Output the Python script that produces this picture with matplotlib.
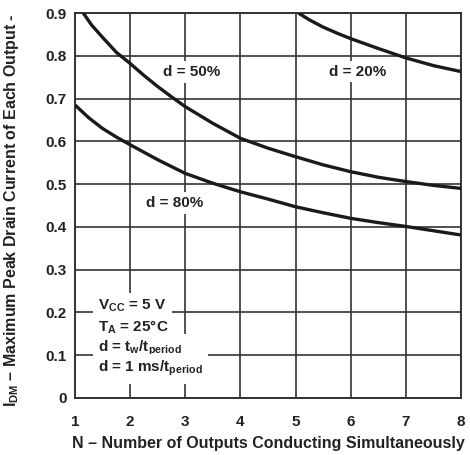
import matplotlib
matplotlib.use('Agg')
import matplotlib.pyplot as plt

plt.rcParams['font.family'] = ['Liberation Sans', 'DejaVu Sans']
plt.rcParams['font.weight'] = 'bold'
plt.rcParams['axes.labelweight'] = 'bold'
plt.rcParams['mathtext.fontset'] = 'custom'
plt.rcParams['mathtext.rm'] = 'Liberation Sans:bold'
plt.rcParams['mathtext.it'] = 'Liberation Sans:bold'
plt.rcParams['mathtext.bf'] = 'Liberation Sans:bold'

# curves
n_50 = [1.15, 1.3, 1.5, 1.75, 2, 2.25, 2.5, 2.75, 3, 3.5, 4, 4.5, 5, 5.5, 6,
        6.5, 7, 7.5, 8]
i_50 = [0.90, 0.872, 0.843, 0.808, 0.782, 0.754, 0.728, 0.704, 0.681, 0.642,
        0.607, 0.584, 0.564, 0.545, 0.529, 0.516, 0.506, 0.497, 0.490]

n_80 = [1, 1.25, 1.5, 1.75, 2, 2.5, 3, 3.5, 4, 4.5, 5, 5.5, 6, 6.5, 7, 7.5, 8]
i_80 = [0.685, 0.655, 0.630, 0.610, 0.592, 0.557, 0.525, 0.502, 0.482, 0.465,
        0.447, 0.433, 0.420, 0.410, 0.401, 0.391, 0.381]

n_20 = [5.05, 5.25, 5.5, 5.75, 6, 6.5, 7, 7.5, 8]
i_20 = [0.90, 0.884, 0.867, 0.853, 0.840, 0.817, 0.795, 0.777, 0.763]

x_ticks = [1, 2, 3, 4, 5, 6, 7, 8]
y_ticks = [0, 0.1, 0.2, 0.3, 0.4, 0.5, 0.6, 0.7, 0.8, 0.9]
y_tick_labels = ['0', '0.1', '0.2', '0.3', '0.4', '0.5', '0.6', '0.7', '0.8', '0.9']

conditions = [r'V$_{\rm CC}$ = 5 V',
              r'T$_{\rm A}$ = 25°C',
              r'd = t$_{\rm w}$/t$_{\rm period}$',
              r'd = 1 ms/t$_{\rm period}$']

ink = '#222222'

fig = plt.figure(figsize=(4.7, 4.55), dpi=100)
ax = fig.add_axes([0.1596, 0.1253, 0.8214, 0.8461])

ax.set_xlim(1, 8)
ax.set_ylim(0, 0.9)
ax.set_xticks(x_ticks)
ax.set_yticks(y_ticks)
ax.set_yticklabels(y_tick_labels)
ax.tick_params(length=0, labelsize=11, colors=ink)
ax.tick_params(axis='x', pad=12)
ax.tick_params(axis='y', pad=6)
ax.grid(True, color='#333333', linewidth=1.2)
ax.set_axisbelow(True)
for s in ax.spines.values():
    s.set_color('#333333')
    s.set_linewidth(1.4)

for n, i in [(n_50, i_50), (n_80, i_80), (n_20, i_20)]:
    ax.plot(n, i, color='#1a1a1a', linewidth=2.4, solid_capstyle='butt',
            solid_joinstyle='round', zorder=3)

box = dict(boxstyle='square,pad=0.25', fc='white', ec='none')
ax.text(3.12, 0.762, 'd = 50%', ha='center', va='center', fontsize=11,
        color=ink, bbox=box, zorder=4)
ax.text(6.12, 0.763, 'd = 20%', ha='center', va='center', fontsize=11,
        color=ink, bbox=box, zorder=4)
ax.text(2.81, 0.456, 'd = 80%', ha='center', va='center', fontsize=11,
        color=ink, bbox=box, zorder=4)

for line, yb in zip(conditions, [0.206, 0.155, 0.108, 0.061]):
    ax.text(1.42, yb, line, ha='left', va='baseline', fontsize=11,
            color=ink, bbox=dict(boxstyle='square,pad=0.35', fc='white', ec='none'),
            zorder=4)

ax.set_xlabel('N – Number of Outputs Conducting Simultaneously', fontsize=11.5,
              fontweight='bold', color=ink, labelpad=5)
ax.set_ylabel(r'I$_{\rm DM}$ – Maximum Peak Drain Current of Each Output -',
              fontsize=11.5, fontweight='bold', color=ink)
ax.yaxis.set_label_coords(-0.14, 0.488)

fig.savefig('out.png', dpi=100)
